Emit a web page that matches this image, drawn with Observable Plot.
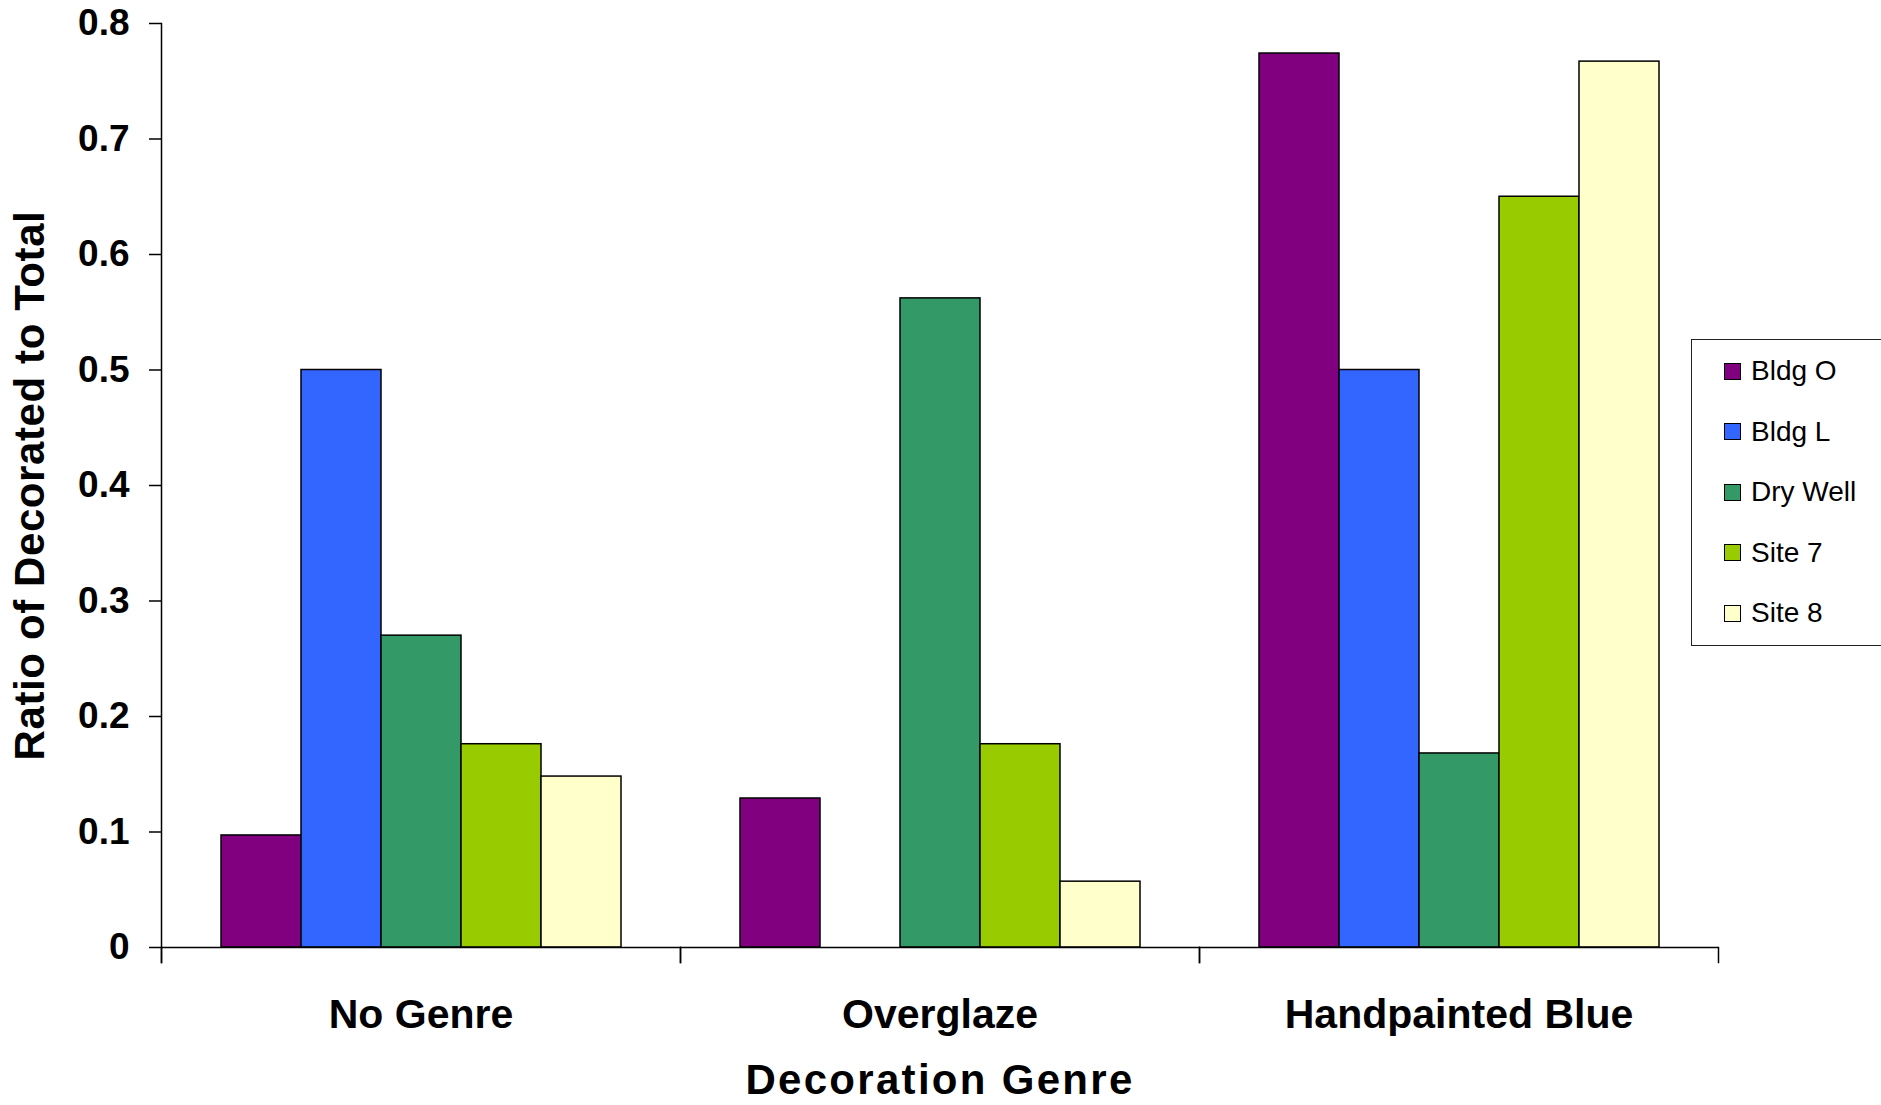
<!DOCTYPE html>
<html>
<head>
<meta charset="utf-8">
<script src="https://cdn.jsdelivr.net/npm/d3@7"></script>
<script src="https://cdn.jsdelivr.net/npm/@observablehq/plot@0.6"></script>
<style>
  html, body { margin: 0; padding: 0; background: #fff; }
  #wrap { position: relative; width: 1881px; height: 1105px; overflow: hidden; font-family: "Liberation Sans", Arial, sans-serif; }
  #legend { position: absolute; left: 1691px; top: 339px; width: 240px; height: 307px; border: 1.5px solid #222; box-sizing: border-box; background: #fff; }
  #legend .item { position: absolute; left: 32px; display: flex; align-items: center; font-size: 28px; color: #000; }
  #legend .sw { width: 15px; height: 15px; border: 1.5px solid #000; margin-right: 10px; }
  g[aria-label="y-axis label"] text { font-size: 42px; letter-spacing: 0.6px; }
  g[aria-label="fx-axis label"] text { font-size: 42px; letter-spacing: 2.3px; }
</style>
</head>
<body>
<div id="wrap"></div>
<script>
const categories = ["No Genre", "Overglaze", "Handpainted Blue"];
const series = ["Bldg O", "Bldg L", "Dry Well", "Site 7", "Site 8"];
const bldgO = [0.097, 0.129, 0.774];
const bldgL = [0.5, 0, 0.5];
const dryWell = [0.27, 0.562, 0.168];
const site7 = [0.176, 0.176, 0.65];
const site8 = [0.148, 0.057, 0.767];
const colors = ["#800080", "#3366FF", "#339966", "#99CC00", "#FFFFCC"];
const yTicks = [0, 0.1, 0.2, 0.3, 0.4, 0.5, 0.6, 0.7, 0.8];
const xTitle = "Decoration Genre";
const yTitle = "Ratio of Decorated to Total";

const seriesValues = [bldgO, bldgL, dryWell, site7, site8];
const data = [];
categories.forEach((c, ci) => {
  series.forEach((s, si) => {
    data.push({category: c, series: s, value: seriesValues[si][ci]});
  });
});

const chart = Plot.plot({
  width: 1881,
  height: 1105,
  marginLeft: 161,
  marginRight: 163,
  marginTop: 23,
  marginBottom: 158,
  style: {fontFamily: "'Liberation Sans', Arial, sans-serif", background: "white", color: "black"},
  fx: {domain: categories, padding: 0},
  x: {domain: series, paddingInner: 0, paddingOuter: 0.72, axis: null},
  y: {domain: [0, 0.8]},
  color: {domain: series, range: colors},
  marks: [
    Plot.barY(data.filter(d => d.value > 0), {fx: "category", x: "series", y: "value", fill: "series", stroke: "black", strokeWidth: 1.5}),
    Plot.ruleY([0], {stroke: "black", strokeWidth: 1.5}),
    Plot.frame({anchor: "left", insetBottom: -15, stroke: "black", strokeWidth: 1.5, fx: () => categories[0]}),
    Plot.frame({anchor: "left", insetTop: 924, insetBottom: -15, stroke: "black", strokeWidth: 1.5}),
    Plot.frame({anchor: "right", insetTop: 924, insetBottom: -15, stroke: "black", strokeWidth: 1.5}),
    Plot.axisY({ticks: yTicks, tickFormat: d3.format("~g"), tickSize: 12, tickPadding: 20, fontSize: 37, fontWeight: "bold", strokeWidth: 1.5, label: yTitle, labelArrow: "none", labelAnchor: "center", labelOffset: 147}),
    Plot.axisFx({anchor: "bottom", tickSize: 0, tickPadding: 51, fontSize: 41, fontWeight: "bold", label: xTitle, labelAnchor: "center", labelOffset: 146})
  ]
});

const wrap = document.getElementById("wrap");
wrap.appendChild(chart);

const legend = document.createElement("div");
legend.id = "legend";
series.forEach((s, i) => {
  const item = document.createElement("div");
  item.className = "item";
  item.style.top = (32 - 17 + i * 60.5) + "px";
  const sw = document.createElement("div");
  sw.className = "sw";
  sw.style.background = colors[i];
  const t = document.createElement("span");
  t.textContent = s;
  item.appendChild(sw);
  item.appendChild(t);
  legend.appendChild(item);
});
wrap.appendChild(legend);
</script>
</body>
</html>
